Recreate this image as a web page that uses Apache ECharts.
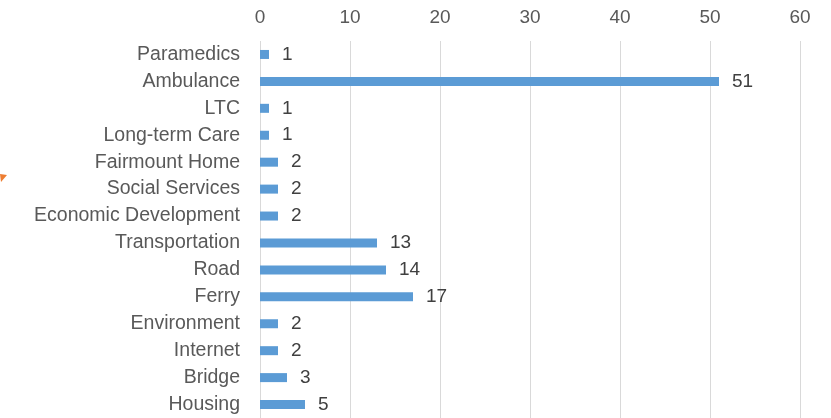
<!DOCTYPE html>
<html><head><meta charset="utf-8">
<script src="https://cdn.jsdelivr.net/npm/echarts@6/dist/echarts.min.js"></script>
<style>html,body{margin:0;padding:0;background:#fff}#c{width:831px;height:418px}</style>
</head><body><div id="c"></div>
<script>
const categories = ["Paramedics","Ambulance","LTC","Long-term Care","Fairmount Home","Social Services","Economic Development","Transportation","Road","Ferry","Environment","Internet","Bridge","Housing"];
const values = [1,51,1,1,2,2,2,13,14,17,2,2,3,5];
const xTicks = [0,10,20,30,40,50,60];

const FONT = '"Liberation Sans", Arial, sans-serif';
const chart = echarts.init(document.getElementById('c'), null, {renderer:'canvas'});
chart.setOption({
  animation:false,
  grid:{left:260,right:31,top:41,bottom:-2.5,containLabel:false},
  xAxis:{type:'value',position:'top',min:xTicks[0],max:xTicks[xTicks.length-1],interval:10,
    axisLine:{show:false},axisTick:{show:false},
    axisLabel:{color:'#595959',fontSize:19,fontFamily:FONT,margin:14},
    splitLine:{show:true,lineStyle:{color:'#d9d9d9',width:1}}},
  yAxis:{type:'category',data:categories,inverse:true,
    axisLine:{show:false},axisTick:{show:false},
    axisLabel:{color:'#595959',fontSize:19.5,fontFamily:FONT,margin:20}},
  series:[{type:'bar',data:values,barWidth:9,
    itemStyle:{color:'#5B9BD5'},
    label:{show:true,position:'right',distance:13,color:'#404040',fontSize:19,fontFamily:FONT}}],
  graphic:[{type:'polygon',shape:{points:[[0,174],[7,175],[1,182]]},style:{fill:'#ED7D31'}}]
});
</script></body></html>
